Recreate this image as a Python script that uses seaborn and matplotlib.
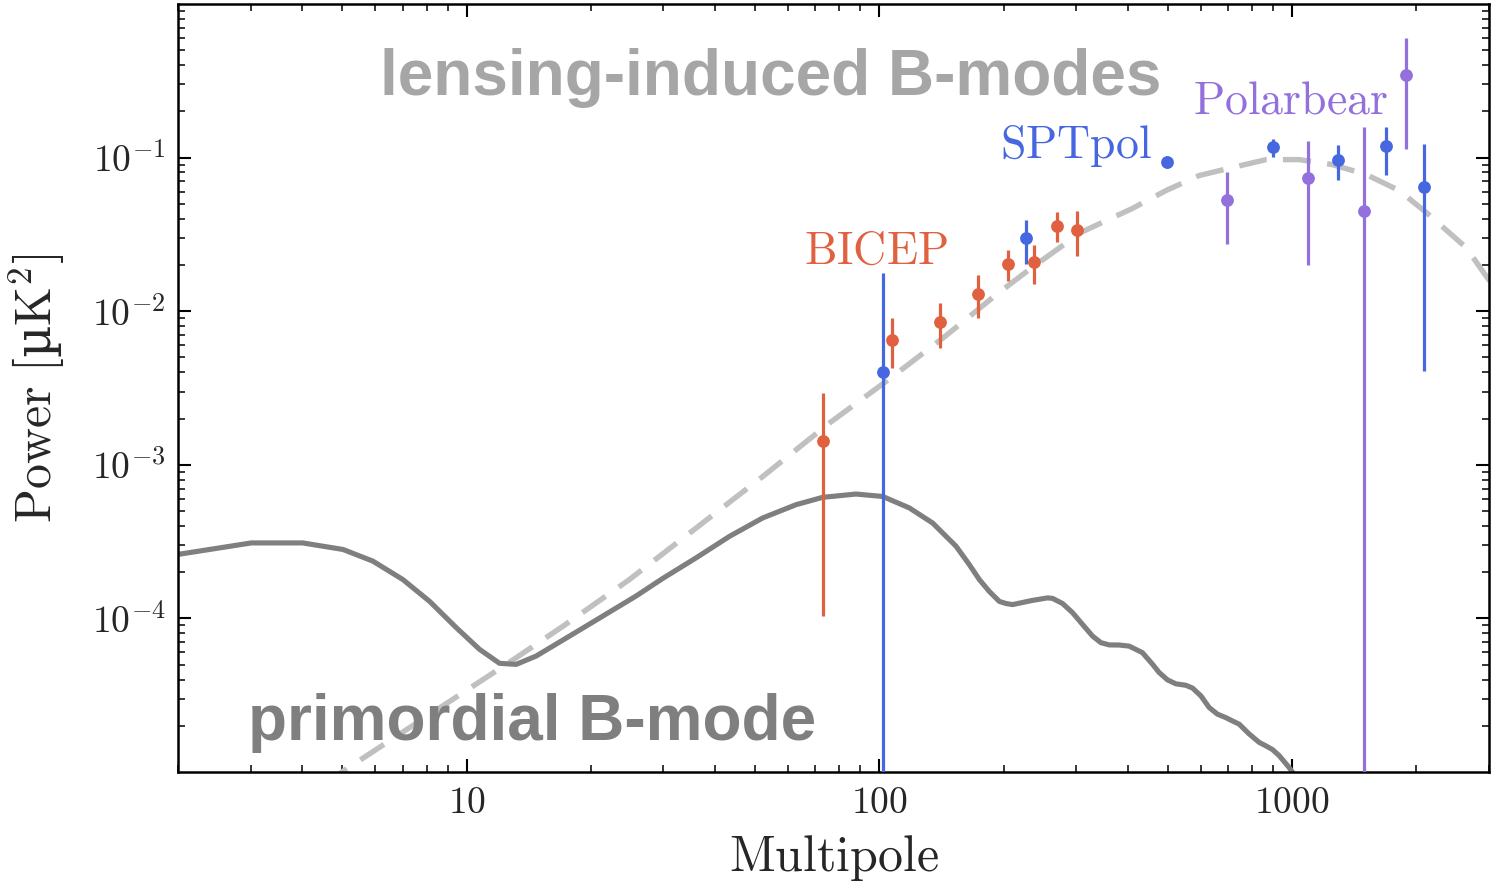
import matplotlib
matplotlib.use("Agg")
import numpy as np
import pandas as pd
import matplotlib.pyplot as plt
import seaborn as sns
from matplotlib.ticker import LogLocator, NullFormatter, FixedLocator, FixedFormatter

# ---- theory spectra (multipole, power in uK^2) ----
lens_ell = [4.5, 5.21, 12.7, 17.1, 24.8, 36.1, 52.1, 75.7, 106.5, 144.5, 194.0,
            234.7, 308.0, 409.9, 495.3, 595.5, 715.6, 865.0, 1039.7, 1250.0,
            1511.0, 1816.0, 2111.0, 2638.0, 3000.0, 3150.0]
lens_power = [8.3e-6, 1.08e-5, 5.18e-5, 8.87e-5, 1.79e-4, 3.90e-4, 8.36e-4, 1.87e-3,
              3.67e-3, 6.88e-3, 1.31e-2, 1.93e-2, 3.26e-2, 4.66e-2, 6.11e-2, 7.64e-2,
              8.61e-2, 9.70e-2, 9.70e-2, 9.01e-2, 7.76e-2, 6.11e-2, 4.40e-2, 2.60e-2,
              1.59e-2, 1.40e-2]

prim_ell = [2.0, 3.01, 4.01, 5.02, 5.93, 7.01, 8.14, 9.44, 10.75, 12.02, 13.19, 14.75,
            17.76, 21.38, 25.76, 29.87, 36.0, 43.35, 52.2, 62.85, 72.9, 87.8, 101.9,
            118.2, 134.6, 153.4, 165.2, 174.7, 184.6, 195.3, 202.7, 210.3, 235.0,
            255.6, 262.8, 277.9, 293.8, 310.6, 328.5, 344.2, 360.6, 381.1, 403.0,
            434.0, 459.0, 476.4, 498.9, 522.9, 552.8, 573.7, 601.2, 629.5, 659.3,
            691.0, 716.7, 744.1, 786.8, 831.8, 863.7, 896.2, 930.0, 983.3, 1080.0]
prim_power = [2.61e-4, 3.10e-4, 3.10e-4, 2.81e-4, 2.36e-4, 1.79e-4, 1.29e-4, 8.71e-5,
              6.29e-5, 5.10e-5, 5.02e-5, 5.69e-5, 7.67e-5, 1.035e-4, 1.40e-4, 1.82e-4,
              2.48e-4, 3.42e-4, 4.51e-4, 5.50e-4, 6.14e-4, 6.45e-4, 6.22e-4,
              5.24e-4, 4.18e-4, 2.95e-4, 2.24e-4, 1.79e-4, 1.50e-4, 1.29e-4, 1.25e-4,
              1.23e-4, 1.31e-4, 1.36e-4, 1.35e-4, 1.25e-4, 1.09e-4, 9.14e-5, 7.67e-5,
              6.95e-5, 6.72e-5, 6.71e-5, 6.60e-5, 5.98e-5, 5.03e-5, 4.44e-5, 3.98e-5,
              3.75e-5, 3.67e-5, 3.52e-5, 3.13e-5, 2.63e-5, 2.38e-5, 2.26e-5, 2.15e-5,
              2.05e-5, 1.77e-5, 1.56e-5, 1.48e-5, 1.40e-5, 1.28e-5, 1.07e-5, 7.5e-6]

# ---- band powers: centre, value, lower and upper bound ----
bicep_ell = [73.2, 107.3, 140.5, 173.4, 205.0, 236.4, 269.3, 301.0]
bicep_val = [1.43e-3, 6.48e-3, 8.45e-3, 1.30e-2, 2.02e-2, 2.09e-2, 3.60e-2, 3.39e-2]
bicep_lo = [1.03e-4, 4.27e-3, 5.78e-3, 8.97e-3, 1.57e-2, 1.50e-2, 2.82e-2, 2.28e-2]
bicep_hi = [2.94e-3, 9.00e-3, 1.13e-2, 1.71e-2, 2.52e-2, 2.68e-2, 4.41e-2, 4.48e-2]

spt_ell = [101.8, 226.5, 497.0, 899.0, 1295.0, 1691.0, 2088.0]
spt_val = [4.04e-3, 3.01e-2, 9.32e-2, 0.1179, 9.66e-2, 0.1184, 6.41e-2]
spt_lo = [1e-8, 2.02e-2, 8.5e-2, 0.1015, 7.1e-2, 7.72e-2, 4.07e-3]
spt_hi = [1.78e-2, 3.95e-2, 1.03e-1, 0.1323, 0.1214, 0.157, 0.1227]

pb_ell = [697.0, 1095.0, 1496.0, 1892.0]
pb_val = [5.26e-2, 7.38e-2, 4.48e-2, 0.346]
pb_lo = [2.72e-2, 2.01e-2, 1e-8, 0.1139]
pb_hi = [8.11e-2, 0.129, 0.157, 0.599]

y_tick_vals = [1e-4, 1e-3, 1e-2, 1e-1]
y_tick_text = [r"$10^{-4}$", r"$10^{-3}$", r"$10^{-2}$", r"$10^{-1}$"]
x_tick_vals = [10, 100, 1000]
x_tick_text = [r"$10$", r"$100$", r"$1000$"]

C_BICEP = "#e0603f"
C_SPT = "#4767e0"
C_PB = "#9370db"

sns.set_style("ticks")
plt.rcParams["mathtext.fontset"] = "cm"
plt.rcParams["font.family"] = ["DejaVu Serif"]

fig = plt.figure(figsize=(14.91, 8.83), dpi=100)
ax = fig.add_axes([0.1194, 0.1257, 0.8793, 0.8698])
ax.set_xscale("log")
ax.set_yscale("log")

# theory curves
sns.lineplot(x=lens_ell, y=lens_power, ax=ax, color="#c0c0c0", linewidth=3.9,
             sort=False, estimator=None)
ax.lines[-1].set_dashes([5.2, 3.0])
sns.lineplot(x=prim_ell, y=prim_power, ax=ax, color="#7f7f7f", linewidth=3.7,
             sort=False, estimator=None, solid_joinstyle="round",
             solid_capstyle="round")

# band powers with error bars
for ell, val, lo, hi, col in [(bicep_ell, bicep_val, bicep_lo, bicep_hi, C_BICEP),
                              (spt_ell, spt_val, spt_lo, spt_hi, C_SPT),
                              (pb_ell, pb_val, pb_lo, pb_hi, C_PB)]:
    v = np.array(val)
    ax.errorbar(ell, v, yerr=[v - np.array(lo), np.array(hi) - v], fmt="none",
                ecolor=col, elinewidth=2.3, capsize=0, zorder=3)
    sns.scatterplot(x=ell, y=val, ax=ax, color=col, s=85, linewidth=0, zorder=4)

ax.set_xlim(2, 3000)
ax.set_ylim(1e-5, 1)

# experiment labels
ax.text(65.8, 2.05e-2, r"$\mathrm{BICEP}$", color=C_BICEP, fontsize=33,
        ha="left", va="baseline")
ax.text(196.0, 0.1, r"$\mathrm{SPTpol}$", color=C_SPT, fontsize=33,
        ha="left", va="baseline")
ax.text(575.0, 0.193, r"$\mathrm{Polarbear}$", color=C_PB, fontsize=33,
        ha="left", va="baseline")

# headline captions
ax.text(0.154, 0.8815, "lensing-induced B-modes", transform=ax.transAxes,
        family="Liberation Sans", weight="bold", fontsize=46, color="#a6a6a6",
        ha="left", va="baseline")
ax.text(0.053, 0.0417, "primordial B-mode", transform=ax.transAxes,
        family="Liberation Sans", weight="bold", fontsize=46, color="#7f7f7f",
        ha="left", va="baseline")

# axes, ticks and labels
ax.xaxis.set_major_locator(FixedLocator(x_tick_vals))
ax.xaxis.set_major_formatter(FixedFormatter(x_tick_text))
ax.xaxis.set_minor_locator(LogLocator(base=10, subs=np.arange(2, 10), numticks=20))
ax.xaxis.set_minor_formatter(NullFormatter())
ax.yaxis.set_major_locator(FixedLocator(y_tick_vals))
ax.yaxis.set_major_formatter(FixedFormatter(y_tick_text))
ax.yaxis.set_minor_locator(LogLocator(base=10, subs=np.arange(2, 10), numticks=20))
ax.yaxis.set_minor_formatter(NullFormatter())

ax.tick_params(which="both", direction="in", top=True, right=True, color="black")
ax.tick_params(which="major", length=9.5, width=1.5, labelsize=27, pad=9)
ax.tick_params(which="minor", length=5, width=1.1)
for sp in ax.spines.values():
    sp.set_linewidth(1.8)
    sp.set_color("black")

ax.set_xlabel(r"$\mathrm{Multipole}$", fontsize=36, labelpad=9)
ax.set_ylabel(r"$\mathrm{Power}\ [$µ$\mathrm{K}^2]$", fontsize=36, labelpad=18)

fig.savefig("out.png", dpi=100, facecolor="white")
